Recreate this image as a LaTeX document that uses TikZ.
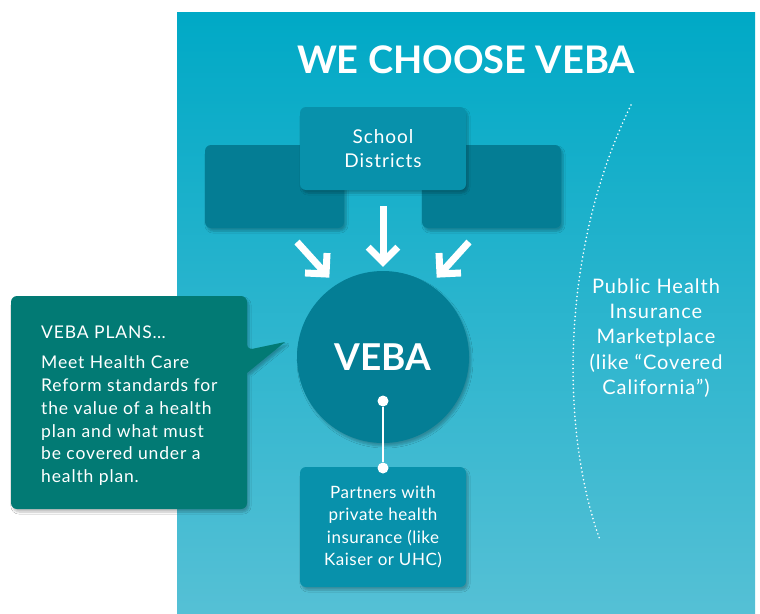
\documentclass[tikz,border=0pt]{standalone}
\usepackage{fontspec}
\setmainfont{Lato}
\usetikzlibrary{arrows.meta,shadows.blur,calc}
\definecolor{bgtop}{HTML}{00A9C6}
\definecolor{bgbot}{HTML}{55C0D5}
\definecolor{boxmid}{HTML}{0891AB}
\definecolor{boxdark}{HTML}{047D94}
\definecolor{circ}{HTML}{047E95}
\definecolor{callout}{HTML}{027A74}
\tikzset{
  shad/.style={blur shadow={shadow blur steps=6,shadow xshift=2pt,shadow yshift=-3pt,shadow opacity=25}},
  card/.style={fill=#1,rounded corners=6pt,shad},
  wtext/.style={text=white,align=center},
  fat/.style={draw=white,line width=7pt},
  chev/.style={draw=white,line width=7pt,line join=miter,line cap=butt},
  dotc/.style={circle,fill=white,inner sep=0pt,minimum size=11pt},
}
\newfontfamily\bodyf[LetterSpace=5]{Lato}
\newfontfamily\bodyg[LetterSpace=3]{Lato}
\begin{document}
\begin{tikzpicture}[x=1pt,y=-1pt]
\useasboundingbox (0,0) rectangle (760,613);
\fill[white] (0,0) rectangle (760,613);
\shade[top color=bgtop,bottom color=bgbot] (177,12) rectangle (755,613);
\node[text=white,font=\fontsize{38}{40}\selectfont\bfseries] (title) at (466,60) {WE CHOOSE VEBA};
% dotted arc
\draw[white,line width=1.8pt,dash pattern=on 0pt off 4pt,line cap=round]
  (631,105) .. controls (560,250) and (560,430) .. (600,540);
% back boxes
\draw[card=boxdark,draw=none] (205,145) rectangle (344,228);
\draw[card=boxdark,draw=none] (422,145) rectangle (561,228);
% school districts
\draw[card=boxmid,draw=none] (300,107) rectangle (466,190);
\node[wtext,font=\bodyf\fontsize{19}{24}\selectfont] (sd) at (383,149) {School\\Districts};
% circle
\node[circle,fill=circ,minimum size=172pt,inner sep=0pt,shad] (veba) at (383,357) {};
\node[text=white,font=\fontsize{37}{40}\selectfont\bfseries] (vebat) at (383,357) {VEBA};
% arrows
\coordinate (a1s) at (383,206);
\coordinate (a1e) at (383,262);
\coordinate (a2s) at (297,242);
\coordinate (a2e) at (326,274);
\coordinate (a3s) at (469,242);
\coordinate (a3e) at (440,274);
\foreach \s/\e in {a1s/a1e,a2s/a2e,a3s/a3e}{
  \draw[fat] (\s) -- ($(\e)!3pt!(\s)$);
  \draw[chev] ($(\e)!21pt!-45:(\s)$) -- (\e) -- ($(\e)!21pt!45:(\s)$);
}
% partners
\draw[card=boxmid,draw=none] (300,467) rectangle (466,587);
\node[wtext,font=\bodyg\fontsize{17}{22.5}\selectfont] (pt) at (383,527) {Partners with\\private health\\insurance (like\\Kaiser or UHC)};
\node[dotc] (d1) at (383,401) {};
\node[dotc] (d2) at (383,468) {};
\draw[white,line width=2pt] (d1) -- (d2);
% callout
\draw[card=callout,draw=none] (11,296) -- (247,296) -- (247,350) [sharp corners] -- (285,342) -- (247,373) [rounded corners=6pt] -- (247,509) -- (11,509) -- cycle;
\node[text=white,align=left,anchor=north west,font=\bodyf\fontsize{17.5}{22.8}\selectfont,inner sep=0pt] (ct) at (41,326) {VEBA PLANS…\\[7pt]Meet Health Care\\Reform standards for\\the value of a health\\plan and what must\\be covered under a\\health plan.};
% right text
\node[wtext,font=\bodyf\fontsize{20}{25.3}\selectfont] (pub) at (656,338) {Public Health\\Insurance\\Marketplace\\(like “Covered\\California”)};
\end{tikzpicture}
\end{document}
